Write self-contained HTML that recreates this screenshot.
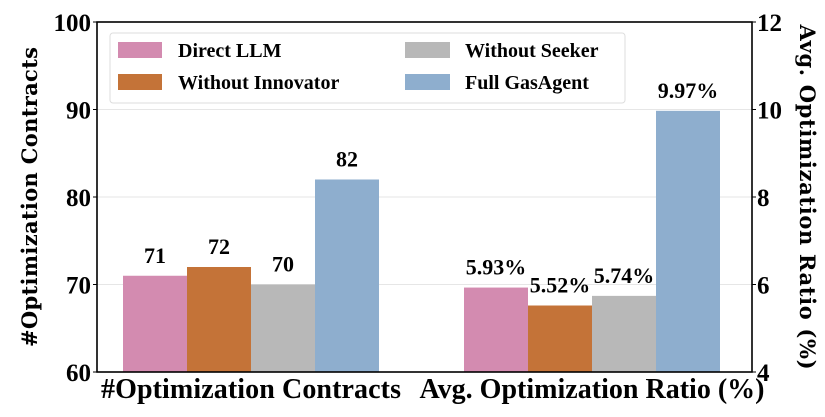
<!DOCTYPE html>
<html><head><meta charset="utf-8"><style>
html,body{margin:0;padding:0;background:#fff;}
svg{display:block;}
</style></head><body>
<svg id="chart" width="825" height="417" xmlns="http://www.w3.org/2000/svg">
<g id="grid"></g><g id="bars"></g><g id="labels"></g>
<rect x="97" y="22" width="655" height="350" fill="none" stroke="#000" stroke-width="1.6"/>
<g id="ticks"></g>
<g>
<rect x="110" y="33" width="515" height="70" rx="3" fill="#fff" fill-opacity="0.85" stroke="#ddd"/>
<rect x="118" y="42" width="44" height="16" fill="#d38bb0"/>
<text x="178" y="57" font-family="Liberation Serif" font-weight="bold" font-size="20">Direct LLM</text>
<rect x="118" y="74" width="44" height="16" fill="#c47338"/>
<text x="178" y="89" font-family="Liberation Serif" font-weight="bold" font-size="20">Without Innovator</text>
<rect x="405" y="42" width="45" height="16" fill="#b8b8b8"/>
<text x="465" y="57" font-family="Liberation Serif" font-weight="bold" font-size="20">Without Seeker</text>
<rect x="405" y="74" width="45" height="16" fill="#8eaece"/>
<text x="465" y="89" font-family="Liberation Serif" font-weight="bold" font-size="20">Full GasAgent</text>
</g>
<text x="251" y="398" text-anchor="middle" font-family="Liberation Serif" font-weight="bold" font-size="28" textLength="300">#Optimization Contracts</text>
<text x="592" y="398" text-anchor="middle" font-family="Liberation Serif" font-weight="bold" font-size="28" textLength="345">Avg. Optimization Ratio (%)</text>
<text transform="translate(37,197) rotate(-90)" text-anchor="middle" font-family="DejaVu Serif" font-weight="bold" font-size="21" textLength="300">#Optimization Contracts</text>
<text transform="translate(800,197) rotate(90)" text-anchor="middle" font-family="DejaVu Serif" font-weight="bold" font-size="21" textLength="345">Avg. Optimization Ratio (%)</text>
</svg>
<script>
const series = ["Direct LLM","Without Innovator","Without Seeker","Full GasAgent"];
const colors = ["#d38bb0","#c47338","#b8b8b8","#8eaece"];
const contracts = [71,72,70,82];
const ratios = [5.93,5.52,5.74,9.97];
const leftTicks = [60,70,80,90,100];
const rightTicks = [4,6,8,10,12];
const NS="http://www.w3.org/2000/svg";
const plotTop=22,plotBot=372,L=97,R=752;
const yL=v=>plotBot-(v-60)/40*(plotBot-plotTop);
const yR=v=>plotBot-(v-4)/8*(plotBot-plotTop);
function mk(tag,attrs,parent,txt){const e=document.createElementNS(NS,tag);for(const k in attrs)e.setAttribute(k,attrs[k]);if(txt!==undefined)e.textContent=txt;document.getElementById(parent).appendChild(e);return e;}
[70,80,90].forEach(v=>{const g=mk('line',{x1:L,x2:R,y1:yL(v),y2:yL(v),stroke:'#e6e6e6','stroke-width':1},'grid');

});
const bw=64;
const starts=[123,464];
[contracts,ratios].forEach((arr,gi)=>{
 arr.forEach((v,i)=>{
  const y=gi===0?yL(v):yR(v);
  const x=starts[gi]+i*bw;
  const b=mk('rect',{x:x,y:y,width:bw,height:plotBot-y,fill:colors[i]},'bars');
  
  
  const t=mk('text',{x:x+bw/2,y:y-13,'text-anchor':'middle','font-family':'Liberation Serif','font-weight':'bold','font-size':22},'labels',gi===0?String(v):v.toFixed(2)+'%');
  
  
 });
});
leftTicks.forEach(v=>{const t=mk('text',{x:91,y:yL(v)+9,'text-anchor':'end','font-family':'Liberation Serif','font-weight':'bold','font-size':25},'ticks',String(v));


const l=mk('line',{x1:L-4,x2:L,y1:yL(v),y2:yL(v),stroke:'#000'},'ticks');

});
rightTicks.forEach(v=>{const t=mk('text',{x:757,y:yR(v)+9,'text-anchor':'start','font-family':'Liberation Serif','font-weight':'bold','font-size':25},'ticks',String(v));


const l=mk('line',{x1:R,x2:R+4,y1:yR(v),y2:yR(v),stroke:'#000'},'ticks');

});
</script>
</body></html>
